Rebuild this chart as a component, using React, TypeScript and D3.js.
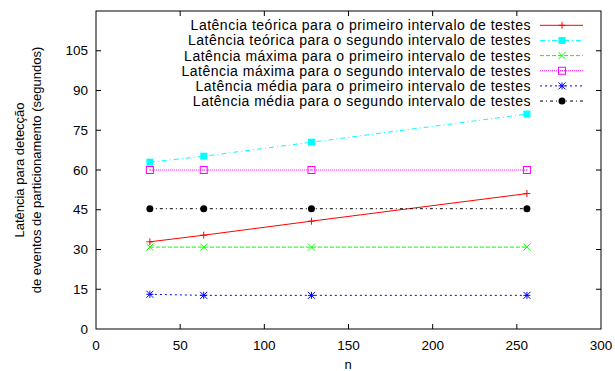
import React from "react";
import * as d3 from "d3";

const nValues = [32, 64, 128, 256];
const teorica1 = [32.9, 35.4, 40.7, 51.1];
const teorica2 = [62.95, 65.2, 70.5, 81.1];
const maxima1 = [30.9, 30.9, 30.9, 30.9];
const maxima2 = [60.0, 60.0, 60.0, 60.0];
const media1 = [13.1, 12.7, 12.7, 12.7];
const media2 = [45.4, 45.4, 45.4, 45.4];
const xTicks = [0, 50, 100, 150, 200, 250, 300];
const yTicks = [0, 15, 30, 45, 60, 75, 90, 105];

const seriesNames = [
  "Latência teórica para o primeiro intervalo de testes",
  "Latência teórica para o segundo intervalo de testes",
  "Latência máxima para o primeiro intervalo de testes",
  "Latência máxima para o segundo intervalo de testes",
  "Latência média para o primeiro intervalo de testes",
  "Latência média para o segundo intervalo de testes",
];

type Marker = "plus" | "fsquare" | "cross" | "osquare" | "star" | "fcircle";

const series = [
  { name: seriesNames[0], values: teorica1, color: "#ff0000", dash: "", marker: "plus" as Marker },
  { name: seriesNames[1], values: teorica2, color: "#00ffff", dash: "5,3,1,3", marker: "fsquare" as Marker },
  { name: seriesNames[2], values: maxima1, color: "#00ff00", dash: "4,2", marker: "cross" as Marker },
  { name: seriesNames[3], values: maxima2, color: "#ff00ff", dash: "1,1", marker: "osquare" as Marker },
  { name: seriesNames[4], values: media1, color: "#0000ff", dash: "2,3", marker: "star" as Marker },
  { name: seriesNames[5], values: media2, color: "#000000", dash: "3,3,1,3", marker: "fcircle" as Marker },
];

const W = 615;
const H = 371;
const M = { left: 96, right: 601, top: 11, bottom: 329 };
const FONT = "'Liberation Sans', Arial, Helvetica, sans-serif";

function MarkerShape({ type, x, y, color }: { type: Marker; x: number; y: number; color: string }) {
  const s = 3.5;
  switch (type) {
    case "plus":
      return <path d={`M${x - s},${y}H${x + s}M${x},${y - s}V${y + s}`} stroke={color} strokeWidth={1} fill="none" />;
    case "fsquare":
      return <rect x={x - s} y={y - s} width={2 * s} height={2 * s} fill={color} />;
    case "cross":
      return <path d={`M${x - s},${y - s}L${x + s},${y + s}M${x - s},${y + s}L${x + s},${y - s}`} stroke={color} strokeWidth={1} fill="none" />;
    case "osquare":
      return (
        <g>
          <rect x={x - s} y={y - s} width={2 * s} height={2 * s} fill="none" stroke={color} strokeWidth={1} />
          <rect x={x - 0.5} y={y - 0.5} width={1} height={1} fill={color} />
        </g>
      );
    case "star":
      return (
        <path
          d={`M${x - s},${y}H${x + s}M${x},${y - s}V${y + s}M${x - s},${y - s}L${x + s},${y + s}M${x - s},${y + s}L${x + s},${y - s}`}
          stroke={color}
          strokeWidth={1}
          fill="none"
        />
      );
    case "fcircle":
      return <circle cx={x} cy={y} r={3.5} fill={color} />;
  }
  return null;
}

export default function App() {
  const x = d3.scaleLinear().domain([0, 300]).range([M.left, M.right]);
  const y = d3.scaleLinear().domain([0, 120]).range([M.bottom, M.top]);
  const line = d3
    .line<number>()
    .x((_, i) => x(nValues[i]))
    .y((d) => y(d));
  const tl = 5;
  const legendY0 = 25.3;
  const legendStep = 15.15;
  return (
    <svg width={W} height={H} style={{ position: "absolute", left: 0, top: 0 }} fontFamily={FONT}>
      <rect width={W} height={H} fill="#fff" />
      {/* ticks */}
      {xTicks.map((t) => (
        <g key={"xt" + t}>
          {t > 0 && t < 300 && (
            <>
              <line x1={x(t)} x2={x(t)} y1={M.bottom} y2={M.bottom - tl} stroke="#000" />
              <line x1={x(t)} x2={x(t)} y1={M.top} y2={M.top + tl} stroke="#000" />
            </>
          )}
          <text x={x(t)} y={345} textAnchor="middle" dominantBaseline="central" fontSize={13.5}>
            {t}
          </text>
        </g>
      ))}
      {yTicks.map((t) => (
        <g key={"yt" + t}>
          {t > 0 && (
            <>
              <line x1={M.left} x2={M.left + tl} y1={y(t)} y2={y(t)} stroke="#000" />
              <line x1={M.right} x2={M.right - tl} y1={y(t)} y2={y(t)} stroke="#000" />
            </>
          )}
          <text x={88} y={y(t)} textAnchor="end" dominantBaseline="central" fontSize={13.5}>
            {t}
          </text>
        </g>
      ))}
      {/* series */}
      {series.map((s, si) => (
        <g key={"s" + si}>
          <path d={line(s.values) || ""} fill="none" stroke={s.color} strokeWidth={1} strokeDasharray={s.dash || undefined} />
          {s.values.map((v, i) => (
            <MarkerShape key={i} type={s.marker} x={x(nValues[i])} y={y(v)} color={s.color} />
          ))}
        </g>
      ))}
      {/* legend */}
      {series.map((s, si) => {
        const ly = legendY0 + si * legendStep;
        return (
          <g key={"l" + si}>
            <text x={531} y={ly} textAnchor="end" dominantBaseline="central" fontSize={14} letterSpacing={0.5}>
              {s.name}
            </text>
            <line x1={540} x2={583} y1={ly} y2={ly} stroke={s.color} strokeDasharray={s.dash || undefined} />
            <MarkerShape type={s.marker} x={562} y={ly} color={s.color} />
          </g>
        );
      })}
      {/* frame */}
      <rect x={M.left} y={M.top} width={M.right - M.left} height={M.bottom - M.top} fill="none" stroke="#000" strokeWidth={1} />
      {/* axis labels */}
      <text x={348} y={364} textAnchor="middle" dominantBaseline="central" fontSize={13}>
        n
      </text>
      <g transform={`translate(0,170) rotate(-90)`}>
        <text x={0} y={19.5} textAnchor="middle" dominantBaseline="central" fontSize={13}>
          Latência para detecção
        </text>
        <text x={0} y={36} textAnchor="middle" dominantBaseline="central" fontSize={13}>
          de eventos de particionamento (segundos)
        </text>
      </g>
    </svg>
  );
}
